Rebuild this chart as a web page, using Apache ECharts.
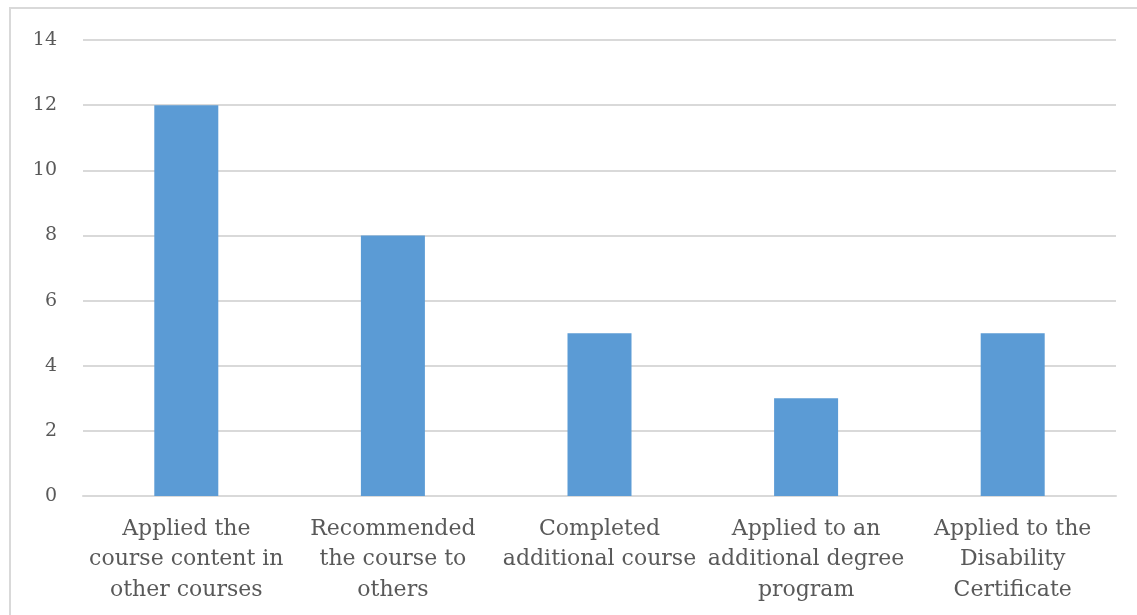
<!DOCTYPE html>
<html><head><meta charset="utf-8">
<script src="https://cdn.jsdelivr.net/npm/echarts@6/dist/echarts.min.js"></script>
<style>html,body{margin:0;padding:0;background:#fff}#c{width:1137px;height:615px}
#frame{position:absolute;left:9px;top:7px;width:1140px;height:620px;border:2px solid #d9d9d9;box-sizing:border-box;pointer-events:none}</style>
</head><body><div id="c"></div><div id="frame"></div>
<script>
const categories = ["Applied the\ncourse content in\nother courses","Recommended\nthe course to\nothers","Completed\nadditional course","Applied to an\nadditional degree\nprogram","Applied to the\nDisability\nCertificate"];
const values = [12, 8, 5, 3, 5];
const yTicks = [0, 2, 4, 6, 8, 10, 12, 14];
const chart = echarts.init(document.getElementById('c'));
chart.setOption({
  animation:false,
  grid:{left:83,right:21,top:40,bottom:119,containLabel:false},
  xAxis:{type:'category',data:categories,
    axisLine:{lineStyle:{color:'#d9d9d9',width:2}},axisTick:{show:false},
    axisLabel:{interval:0,color:'#595959',fontFamily:'DejaVu Serif',fontSize:22,lineHeight:30.5,margin:18}},
  yAxis:{type:'value',min:yTicks[0],max:yTicks[yTicks.length-1],interval:2,
    axisLine:{show:false},axisTick:{show:false},
    splitLine:{lineStyle:{color:'#d9d9d9',width:2}},
    axisLabel:{color:'#595959',fontFamily:'DejaVu Serif',fontSize:19,margin:26}},
  series:[{type:'bar',data:values,barWidth:64,itemStyle:{color:'#5b9bd5'}}]
});
</script></body></html>
